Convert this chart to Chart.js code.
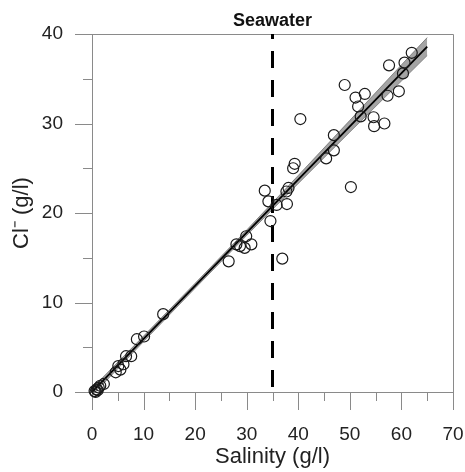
<!DOCTYPE html>
<html>
<head>
<meta charset="utf-8">
<script src="https://cdn.jsdelivr.net/npm/chart.js@4/dist/chart.umd.min.js"></script>
<style>
  body { margin: 0; background: #fff; }
  #wrap { width: 465px; height: 472px; }
</style>
</head>
<body>
<div id="wrap"><canvas id="chart" width="465" height="472"></canvas></div>
<script>
// samples: salinity (g/l) vs chloride (g/l)
let salinity = [0.5, 0.7, 0.9, 1.1, 1.3, 1.6, 2.3, 4.6, 5.1, 5.5, 6.1, 6.6, 7.6, 8.7, 10.1, 13.8,
    26.5, 28.0, 28.7, 29.6, 29.9, 30.9, 33.5, 34.2, 34.6, 35.8, 36.9, 37.7, 37.8, 38.1, 39.0, 39.3,
    40.4, 45.4, 46.9, 46.9, 49.0, 50.2, 51.1, 51.6, 52.1, 52.9, 54.6, 54.7, 56.7, 57.3, 57.6, 59.5,
    60.3, 60.6, 62.0];
let chloride = [0.1, 0.0, 0.3, 0.2, 0.5, 0.7, 0.9, 2.2, 2.9, 2.5, 3.1, 4.0, 4.0, 5.9, 6.2, 8.7,
    14.6, 16.5, 16.3, 16.1, 17.4, 16.5, 22.5, 21.3, 19.1, 20.9, 14.9, 22.4, 21.0, 22.8, 25.0, 25.5,
    30.5, 26.1, 27.0, 28.7, 34.3, 22.9, 32.9, 31.9, 30.8, 33.3, 30.7, 29.7, 30.0, 33.1, 36.5, 33.6,
    35.6, 36.8, 37.9];

// regression line and its confidence band
let fitX = [0, 65];
let fitY = [0, 38.6];
let bandX = [0, 10, 20, 30, 40, 50, 60, 65];
let bandUpper = [0.4, 6.25, 12.15, 18.1, 24.2, 30.35, 36.55, 39.6];
let bandLower = [-0.4, 5.63, 11.6, 17.5, 23.3, 29.05, 34.75, 37.6];

let seawaterX = 35;
let xTicks = [0, 10, 20, 30, 40, 50, 60, 70];
let yTicks = [0, 10, 20, 30, 40];

function pts(xs, ys) {
    return xs.map(function(x, i) { return { x: x, y: ys[i] }; });
}

function noPad(s) {
    s.paddingLeft = 0; s.paddingRight = 0; s.paddingTop = 0; s.paddingBottom = 0;
}

let axisGray = "#8a8a8a";
let fontFam = "'Liberation Sans', Arial, sans-serif";

// box frame plus major/minor tick marks
let framePlugin = {
    id: "frame",
    beforeDatasetsDraw: function(chart) {
        let ctx = chart.ctx, a = chart.chartArea;
        let xs = chart.scales.x, ys = chart.scales.y;
        ctx.save();
        ctx.strokeStyle = axisGray;
        ctx.lineWidth = 1;
        ctx.beginPath();
        ctx.moveTo(a.left - 17, a.top + 0.5); ctx.lineTo(a.right + 0.5, a.top + 0.5);
        ctx.lineTo(a.right + 0.5, a.bottom + 0.5);
        ctx.moveTo(a.left - 17, a.bottom + 0.5); ctx.lineTo(a.right + 0.5, a.bottom + 0.5);
        ctx.moveTo(a.left + 0.5, a.top); ctx.lineTo(a.left + 0.5, a.bottom + 18);
        for (let v = 0; v <= 70; v += 5) {
            let px = Math.round(xs.getPixelForValue(v)) + 0.5;
            ctx.moveTo(px, a.bottom); ctx.lineTo(px, a.bottom + (v % 10 === 0 ? 18 : 9));
        }
        for (let v = 0; v <= 40; v += 5) {
            let py = Math.round(ys.getPixelForValue(v)) + 0.5;
            ctx.moveTo(a.left, py); ctx.lineTo(a.left - (v % 10 === 0 ? 17 : 9), py);
        }
        ctx.stroke();
        ctx.restore();
    },
    afterDraw: function(chart) {
        let ctx = chart.ctx;
        ctx.save();
        ctx.fillStyle = "#111";
        ctx.font = "bold 18px " + fontFam;
        ctx.textAlign = "center";
        ctx.textBaseline = "middle";
        ctx.fillText("Seawater", chart.scales.x.getPixelForValue(seawaterX), 21);
        ctx.restore();
    }
};

let ctx = document.getElementById("chart").getContext("2d");
let display = new Chart(ctx, {
    type: "scatter",
    data: {
        datasets: [
            {
                label: "samples",
                data: pts(salinity, chloride),
                pointRadius: 5.5,
                pointBorderWidth: 1.2,
                pointBorderColor: "#1a1a1a",
                pointBackgroundColor: "rgba(0,0,0,0)",
                showLine: false,
                clip: false
            },
            {
                label: "fit",
                data: pts(fitX, fitY),
                showLine: true,
                borderColor: "#000",
                borderWidth: 1.8,
                pointRadius: 0
            },
            {
                label: "seawater",
                data: [{ x: seawaterX, y: 40 }, { x: seawaterX, y: 0 }],
                showLine: true,
                borderColor: "#000",
                borderWidth: 3,
                borderDash: [17, 12],
                borderDashOffset: 12,
                pointRadius: 0
            },
            {
                label: "upper",
                data: pts(bandX, bandUpper),
                showLine: true,
                borderColor: "rgba(100,100,100,0.7)",
                borderWidth: 1,
                backgroundColor: "rgba(125,125,125,0.7)",
                fill: "+1",
                pointRadius: 0
            },
            {
                label: "lower",
                data: pts(bandX, bandLower),
                showLine: true,
                borderColor: "rgba(100,100,100,0.7)",
                borderWidth: 1,
                pointRadius: 0
            }
        ]
    },
    options: {
        responsive: false,
        animation: false,
        layout: { padding: { top: 34, right: 12, left: 0, bottom: 0 } },
        plugins: { legend: { display: false }, tooltip: { enabled: false } },
        scales: {
            x: {
                type: "linear",
                min: 0, max: 70,
                afterFit: function(s) { s.height = 80; noPad(s); },
                afterBuildTicks: function(s) { s.ticks = xTicks.map(function(v) { return { value: v }; }); },
                grid: { display: false, drawTicks: false },
                border: { display: false },
                ticks: {
                    padding: 31,
                    color: "#222",
                    maxRotation: 0,
                    font: { family: fontFam, size: 19 }
                },
                title: {
                    display: true,
                    text: "Salinity (g/l)",
                    color: "#222",
                    padding: { top: 0, bottom: 2 },
                    font: { family: fontFam, size: 22 }
                }
            },
            y: {
                type: "linear",
                min: 0, max: 40,
                afterFit: function(s) { s.width = 92; noPad(s); },
                afterBuildTicks: function(s) { s.ticks = yTicks.map(function(v) { return { value: v }; }); },
                grid: { display: false, drawTicks: false },
                border: { display: false },
                ticks: {
                    padding: 29,
                    color: "#222",
                    font: { family: fontFam, size: 19 }
                },
                title: {
                    display: true,
                    text: "Cl⁻ (g/l)",
                    color: "#222",
                    padding: { top: 9, bottom: 0 },
                    font: { family: fontFam, size: 22 }
                }
            }
        }
    },
    plugins: [framePlugin]
});
</script>
</body>
</html>
